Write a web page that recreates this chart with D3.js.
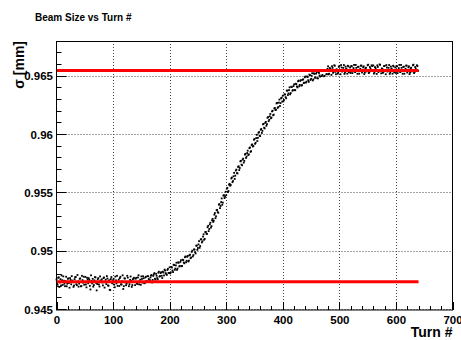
<!DOCTYPE html>
<html>
<head>
<meta charset="utf-8">
<script src="https://cdn.jsdelivr.net/npm/d3@7/dist/d3.min.js"></script>
<style>
  html, body { margin: 0; padding: 0; background: #fff; }
  svg { display: block; }
  text { font-family: "Liberation Sans", Arial, Helvetica, sans-serif; font-weight: bold; }
</style>
</head>
<body>
<svg id="chart" width="461" height="340"></svg>
<script>
// ---------------- data ----------------
const chartTitle = "Beam Size vs Turn #";
const xTitle = "Turn #";
const yTitle = "\u03c3 [mm]";
const xTicks = [0, 100, 200, 300, 400, 500, 600, 700];
const yTicks = [0.945, 0.95, 0.955, 0.96, 0.965];
const yTickLabels = ["0.945", "0.95", "0.955", "0.96", "0.965"];
const xRange = [0, 700];
const yRange = [0.94492, 0.96797];
// beam size at even turns 0,2,...,638
const sigmaEven = [
0.94753,0.94708,0.94772,0.94728,0.94702,0.94747,0.94780,0.94717,0.94740,0.94695,
0.94760,0.94723,0.94766,0.94712,0.94744,0.94690,0.94756,0.94775,0.94705,0.94736,
0.94718,0.94763,0.94697,0.94748,0.94777,0.94730,0.94711,0.94768,0.94721,0.94751,
0.94668,0.94741,0.94759,0.94706,0.94774,0.94724,0.94715,0.94765,0.94693,0.94745,
0.94754,0.94703,0.94771,0.94732,0.94714,0.94762,0.94700,0.94665,0.94757,0.94726,
0.94747,0.94709,0.94778,0.94720,0.94699,0.94753,0.94766,0.94712,0.94738,0.94672,
0.94763,0.94729,0.94717,0.94769,0.94696,0.94750,0.94742,0.94706,0.94760,0.94733,
0.94760,0.94718,0.94771,0.94712,0.94752,0.94780,0.94727,0.94764,0.94722,0.94777,
0.94738,0.94781,0.94736,0.94770,0.94792,0.94750,0.94797,0.94760,0.94802,0.94766,
0.94812,0.94778,0.94808,0.94785,0.94820,0.94788,0.94830,0.94799,0.94835,0.94810,
0.94858,0.94815,0.94856,0.94817,0.94877,0.94847,0.94897,0.94847,0.94897,0.94870,
0.94919,0.94869,0.94919,0.94892,0.94951,0.94914,0.94956,0.94915,0.94966,0.94942,
0.95000,0.94963,0.95010,0.94977,0.95044,0.95023,0.95082,0.95040,0.95098,0.95081,
0.95141,0.95101,0.95161,0.95144,0.95213,0.95186,0.95240,0.95211,0.95273,0.95257,
0.95323,0.95295,0.95350,0.95325,0.95399,0.95383,0.95448,0.95412,0.95476,0.95463,
0.95476,0.95539,0.95511,0.95573,0.95563,0.95627,0.95597,0.95667,0.95643,0.95695,
0.95662,0.95724,0.95709,0.95770,0.95732,0.95789,0.95770,0.95830,0.95807,0.95857,
0.95826,0.95885,0.95853,0.95911,0.95897,0.95957,0.95925,0.95993,0.95967,0.96017,
0.95982,0.96043,0.96027,0.96087,0.96048,0.96104,0.96085,0.96145,0.96122,0.96172,
0.96141,0.96199,0.96166,0.96223,0.96208,0.96267,0.96231,0.96295,0.96265,0.96311,
0.96328,0.96292,0.96339,0.96306,0.96372,0.96348,0.96400,0.96351,0.96402,0.96376,
0.96426,0.96376,0.96426,0.96399,0.96458,0.96421,0.96462,0.96420,0.96469,0.96440,
0.96493,0.96449,0.96488,0.96447,0.96505,0.96473,0.96521,0.96468,0.96515,0.96485,
0.96531,0.96477,0.96523,0.96492,0.96547,0.96506,0.96544,0.96499,0.96545,0.96513,
0.96580,0.96517,0.96557,0.96507,0.96567,0.96536,0.96585,0.96512,0.96550,0.96525,
0.96583,0.96512,0.96570,0.96539,0.96591,0.96528,0.96561,0.96517,0.96579,0.96550,
0.96523,0.96580,0.96542,0.96592,0.96531,0.96567,0.96516,0.96577,0.96547,0.96586,
0.96527,0.96571,0.96513,0.96563,0.96536,0.96589,0.96522,0.96574,0.96545,0.96582,
0.96588,0.96525,0.96565,0.96515,0.96575,0.96544,0.96593,0.96520,0.96558,0.96533,
0.96583,0.96512,0.96570,0.96539,0.96591,0.96528,0.96561,0.96517,0.96579,0.96550,
0.96523,0.96580,0.96542,0.96592,0.96531,0.96567,0.96516,0.96577,0.96547,0.96586,
0.96527,0.96571,0.96513,0.96563,0.96536,0.96589,0.96522,0.96574,0.96545,0.96582
];
// beam size at odd turns 1,3,...,639
const sigmaOdd = [
0.94723,0.94768,0.94689,0.94756,0.94788,0.94707,0.94743,0.94696,0.94777,0.94717,
0.94762,0.94683,0.94749,0.94782,0.94731,0.94702,0.94773,0.94713,0.94792,0.94692,
0.94759,0.94695,0.94785,0.94726,0.94708,0.94776,0.94686,0.94752,0.94765,0.94699,
0.94789,0.94720,0.94692,0.94746,0.94771,0.94660,0.94755,0.94711,0.94780,0.94738,
0.94728,0.94765,0.94684,0.94752,0.94783,0.94702,0.94747,0.94663,0.94774,0.94720,
0.94759,0.94687,0.94746,0.94785,0.94734,0.94698,0.94777,0.94710,0.94789,0.94696,
0.94762,0.94704,0.94785,0.94732,0.94713,0.94779,0.94690,0.94755,0.94768,0.94705,
0.94768,0.94716,0.94790,0.94735,0.94708,0.94758,0.94781,0.94722,0.94770,0.94741,
0.94782,0.94757,0.94748,0.94786,0.94728,0.94784,0.94808,0.94752,0.94785,0.94755,
0.94820,0.94783,0.94816,0.94766,0.94813,0.94838,0.94808,0.94793,0.94845,0.94810,
0.94806,0.94860,0.94830,0.94880,0.94836,0.94874,0.94836,0.94900,0.94865,0.94904,
0.94867,0.94923,0.94899,0.94944,0.94901,0.94948,0.94908,0.94960,0.94936,0.94990,
0.94951,0.95011,0.94987,0.95043,0.95007,0.95054,0.95025,0.95097,0.95071,0.95121,
0.95094,0.95160,0.95146,0.95201,0.95168,0.95226,0.95198,0.95261,0.95247,0.95309,
0.95279,0.95347,0.95331,0.95395,0.95365,0.95417,0.95394,0.95472,0.95451,0.95505,
0.95531,0.95503,0.95566,0.95557,0.95619,0.95587,0.95638,0.95615,0.95687,0.95665,
0.95718,0.95691,0.95766,0.95738,0.95781,0.95755,0.95824,0.95795,0.95837,0.95820,
0.95879,0.95847,0.95906,0.95893,0.95951,0.95916,0.95965,0.95940,0.96010,0.95986,
0.96037,0.96009,0.96083,0.96054,0.96096,0.96070,0.96139,0.96110,0.96152,0.96135,
0.96194,0.96161,0.96219,0.96205,0.96262,0.96224,0.96269,0.96240,0.96306,0.96278,
0.96280,0.96340,0.96316,0.96372,0.96334,0.96376,0.96340,0.96405,0.96371,0.96411,
0.96375,0.96431,0.96407,0.96452,0.96409,0.96455,0.96414,0.96464,0.96437,0.96486,
0.96441,0.96493,0.96461,0.96509,0.96463,0.96499,0.96459,0.96520,0.96482,0.96518,
0.96478,0.96530,0.96502,0.96543,0.96496,0.96539,0.96495,0.96542,0.96512,0.96558,
0.96511,0.96567,0.96544,0.96581,0.96524,0.96589,0.96533,0.96555,0.96517,0.96575,
0.96546,0.96591,0.96535,0.96567,0.96515,0.96578,0.96553,0.96585,0.96528,0.96570,
0.96583,0.96522,0.96565,0.96534,0.96592,0.96549,0.96575,0.96517,0.96559,0.96586,
0.96538,0.96580,0.96526,0.96568,0.96545,0.96594,0.96530,0.96561,0.96589,0.96541,
0.96518,0.96574,0.96551,0.96588,0.96531,0.96596,0.96540,0.96562,0.96524,0.96582,
0.96546,0.96591,0.96535,0.96567,0.96515,0.96578,0.96553,0.96585,0.96528,0.96570,
0.96583,0.96522,0.96565,0.96534,0.96592,0.96549,0.96575,0.96517,0.96559,0.96586,
0.96538,0.96580,0.96526,0.96568,0.96545,0.96594,0.96530,0.96561,0.96589,0.96541
];
// fitted plateau levels (red lines) and their turn span
const lowLevel = 0.94734;
const highLevel = 0.96545;
const levelSpan = [0, 640];

// ---------------- drawing ----------------
const svg = d3.select("#chart");
const L = 56.5, R = 452.5, T = 41, B = 310;
const x = d3.scaleLinear().domain(xRange).range([L, R]);
const y = d3.scaleLinear().domain(yRange).range([B, T]);

// grid
const grid = svg.append("g").attr("stroke", "#444").attr("stroke-width", 1).attr("stroke-dasharray", "1,2");
grid.selectAll("line.gx").data(xTicks.filter(d => d > xRange[0] && d < xRange[1])).join("line")
  .attr("x1", d => Math.round(x(d)) + 0.5).attr("x2", d => Math.round(x(d)) + 0.5)
  .attr("y1", T).attr("y2", B);
grid.selectAll("line.gy").data(yTicks).join("line")
  .attr("y1", d => Math.round(y(d)) + 0.5).attr("y2", d => Math.round(y(d)) + 0.5)
  .attr("x1", L).attr("x2", R);

// data points
const pts = [];
sigmaEven.forEach((v, i) => pts.push({t: 2 * i, v}));
sigmaOdd.forEach((v, i) => pts.push({t: 2 * i + 1, v}));
svg.append("g").selectAll("rect").data(pts).join("rect")
  .attr("x", d => x(d.t) - 0.9).attr("y", d => y(d.v) - 0.9)
  .attr("width", 1.8).attr("height", 1.8).attr("fill", "#000");

// red plateau lines
svg.append("g").selectAll("line").data([lowLevel, highLevel]).join("line")
  .attr("x1", x(levelSpan[0])).attr("x2", x(levelSpan[1]))
  .attr("y1", d => y(d)).attr("y2", d => y(d))
  .attr("stroke", "#ff0000").attr("stroke-width", 3);

// axes (ROOT style ticks inside)
const xAxis = d3.axisBottom(x).tickValues(xTicks).tickSize(0).tickPadding(0).tickFormat(d3.format("d"));
const gx = svg.append("g").attr("transform", `translate(0,${B})`).call(xAxis);
gx.select(".domain").remove();
gx.selectAll("text").attr("dy", null).attr("y", 13.5).attr("font-size", 11.5)
  .attr("font-family", "Liberation Sans, Arial, sans-serif").attr("font-weight", "bold").attr("fill", "#000");

const yAxis = d3.axisLeft(y).tickValues(yTicks).tickSize(0).tickPadding(0).tickFormat((d, i) => yTickLabels[i]);
const gy = svg.append("g").attr("transform", `translate(${L - 3.5},0)`).call(yAxis);
gy.select(".domain").remove();
gy.selectAll("text").attr("dy", "0.36em").attr("font-size", 11.5)
  .attr("font-family", "Liberation Sans, Arial, sans-serif").attr("font-weight", "bold").attr("fill", "#000");

// tick marks
const ticks = svg.append("g").attr("stroke", "#000").attr("stroke-width", 1);
const xMinor = d3.range(xRange[0], xRange[1] + 0.001, 20);
ticks.selectAll("line.xt").data(xMinor).join("line")
  .attr("x1", d => Math.round(x(d)) + 0.5).attr("x2", d => Math.round(x(d)) + 0.5)
  .attr("y1", B).attr("y2", d => B - (d % 100 === 0 ? 8 : 4));
const yMinor = d3.range(0, 24).map(k => 0.945 + k * 0.001).filter(d => d >= yRange[0] && d <= yRange[1]);
ticks.selectAll("line.yt").data(yMinor).join("line")
  .attr("y1", d => Math.round(y(d)) + 0.5).attr("y2", d => Math.round(y(d)) + 0.5)
  .attr("x1", L).attr("x2", (d, i) => L + (i % 5 === 0 ? 10 : 5));

// frame
svg.append("rect").attr("x", L).attr("y", T + 0.5).attr("width", R - L).attr("height", B - T - 0.5)
  .attr("fill", "none").attr("stroke", "#000").attr("stroke-width", 1);

// titles
svg.append("text").attr("x", 35).attr("y", 20.5).attr("font-size", 10).attr("fill", "#000").text(chartTitle);
svg.append("text").attr("x", R).attr("y", 337).attr("text-anchor", "end").attr("font-size", 14).attr("fill", "#000").text(xTitle);
svg.append("text").attr("transform", `translate(23.5,${T}) rotate(-90)`).attr("text-anchor", "end")
  .attr("font-size", 14).attr("fill", "#000").text(yTitle);
</script>
</body>
</html>
